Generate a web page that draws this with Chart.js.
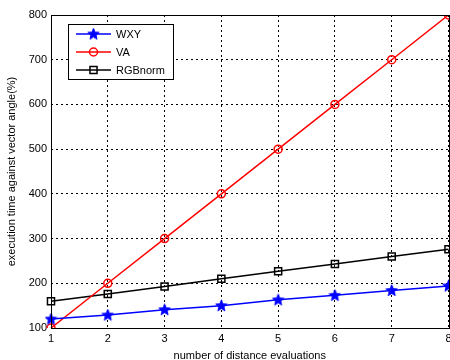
<!DOCTYPE html>
<html>
<head>
<meta charset="utf-8">
<script src="https://cdn.jsdelivr.net/npm/chart.js@4/dist/chart.umd.min.js"></script>
<style>
  html, body { margin: 0; padding: 0; background: #fff; overflow: hidden; }
  #wrap { width: 456px; height: 360px; }
</style>
</head>
<body>
<div id="wrap"><canvas id="lineChart" width="456" height="360"></canvas></div>
<script>
const evals = ['1', '2', '3', '4', '5', '6', '7', '8'];
const wxy = [120, 129, 141, 150, 163, 173, 184, 194];
const va = [100, 200, 300, 400, 500, 600, 700, 800];
const rgbNorm = [160, 176, 193, 210, 227, 243, 260, 276];
const yTicks = [100, 200, 300, 400, 500, 600, 700, 800];

const FONT = '"Liberation Sans", Arial, sans-serif';

function starImage(color) {
   const c = document.createElement('canvas');
   c.width = 13; c.height = 13;
   const g = c.getContext('2d');
   g.beginPath();
   for (let i = 0; i < 10; i++) {
      const r = i % 2 === 0 ? 6 : 2.6;
      const a = -Math.PI / 2 + i * Math.PI / 5;
      const px = 6.5 + r * Math.cos(a), py = 6.8 + r * Math.sin(a);
      i === 0 ? g.moveTo(px, py) : g.lineTo(px, py);
   }
   g.closePath();
   g.fillStyle = color;
   g.fill();
   g.strokeStyle = color;
   g.lineWidth = 1;
   g.stroke();
   return c;
}
const blueStar = starImage('#0000ff');

const frameAndLegend = {
   id: 'frameAndLegend',
   afterDatasetsDraw(chart) {
      const { ctx, chartArea: a } = chart;
      ctx.save();
      ctx.strokeStyle = '#000';
      ctx.lineWidth = 1;
      ctx.strokeRect(Math.round(a.left) + 0.5, Math.round(a.top) + 0.5,
                     Math.round(a.right - a.left), Math.round(a.bottom - a.top));
      // legend box
      const lx = 68.5, ly = 24.5, lw = 105, lh = 55;
      ctx.fillStyle = '#fff';
      ctx.fillRect(lx, ly, lw, lh);
      ctx.strokeRect(lx, ly, lw, lh);
      ctx.font = '11px ' + FONT;
      ctx.textBaseline = 'middle';
      chart.data.datasets.forEach((ds, i) => {
         const y = 34 + i * 18;
         ctx.strokeStyle = ds.borderColor;
         ctx.lineWidth = 1.5;
         ctx.beginPath();
         ctx.moveTo(76, y);
         ctx.lineTo(111, y);
         ctx.stroke();
         ctx.fillStyle = 'rgba(0,0,0,0)';
         Chart.helpers.drawPoint(ctx, {
            pointStyle: ds.pointStyle, radius: ds.pointRadius,
            borderWidth: ds.pointBorderWidth, rotation: 0
         }, 93.5, y);
         ctx.fillStyle = '#000';
         ctx.fillText(ds.label, 116, y + 1);
      });
      ctx.restore();
   }
};

new Chart(document.getElementById('lineChart').getContext('2d'), {
   type: 'line',
   data: {
      labels: evals,
      datasets: [
         {
            label: 'WXY', data: wxy,
            borderColor: '#0000ff', backgroundColor: '#0000ff',
            borderWidth: 1.5, pointStyle: blueStar, pointRadius: 6,
            pointBorderWidth: 1.5
         },
         {
            label: 'VA', data: va,
            borderColor: '#ff0000', backgroundColor: 'rgba(0,0,0,0)',
            borderWidth: 1.5, pointStyle: 'circle', pointRadius: 4,
            pointBorderWidth: 1.5
         },
         {
            label: 'RGBnorm', data: rgbNorm,
            borderColor: '#000000', backgroundColor: 'rgba(0,0,0,0)',
            borderWidth: 1.5, pointStyle: 'rect', pointRadius: 5,
            pointBorderWidth: 1.5
         }
      ]
   },
   options: {
      responsive: false,
      animation: false,
      layout: { padding: { top: 15, right: 4, left: 3, bottom: 0 } },
      plugins: { legend: { display: false }, tooltip: { enabled: false } },
      elements: { line: { tension: 0 } },
      scales: {
         x: {
            offset: false,
            afterFit(scale) { scale.height = 32; },
            grid: { color: '#000', lineWidth: 1, drawTicks: false },
            border: { display: false, dash: [2, 3] },
            ticks: { color: '#000', font: { family: FONT, size: 11 }, padding: 4, maxRotation: 0 },
            title: {
               display: true, text: 'number of distance evaluations',
               color: '#000', font: { family: FONT, size: 11 }, padding: { top: 0, bottom: -3 }
            }
         },
         y: {
            min: 100, max: 800,
            afterFit(scale) { scale.width = 48; },
            afterBuildTicks(scale) { scale.ticks = yTicks.map(v => ({ value: v })); },
            grid: { color: '#000', lineWidth: 1, drawTicks: false },
            border: { display: false, dash: [2, 3] },
            ticks: { color: '#000', font: { family: FONT, size: 11 }, padding: 4 },
            title: {
               display: true, text: 'execution time against vector angle(%)',
               color: '#000', font: { family: FONT, size: 11 }, padding: { top: 2, bottom: 2 }
            }
         }
      }
   },
   plugins: [frameAndLegend]
});
</script>
</body>
</html>
